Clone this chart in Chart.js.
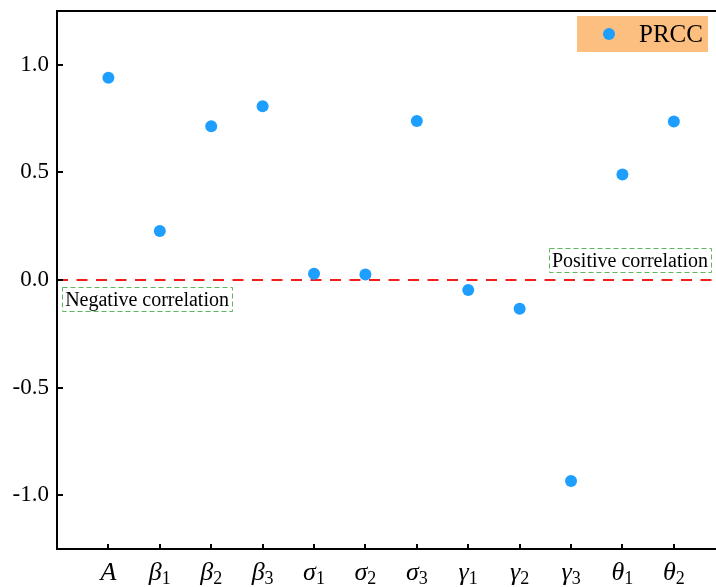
<!DOCTYPE html>
<html>
<head>
<meta charset="utf-8">
<script src="https://cdn.jsdelivr.net/npm/chart.js@4/dist/chart.umd.min.js"></script>
<style>
  html, body { margin: 0; padding: 0; background: #fff; overflow: hidden; }
  #wrap { width: 716px; height: 587px; }
</style>
</head>
<body>
<div id="wrap"><canvas id="prccChart" width="716" height="587"></canvas></div>
<script>
// parameter symbols and their subscripts
const symbols = ['A', 'β', 'β', 'β', 'σ', 'σ', 'σ', 'γ', 'γ', 'γ', 'θ', 'θ'];
const subscripts = ['', '1', '2', '3', '1', '2', '3', '1', '2', '3', '1', '2'];
const prccValues = [0.94, 0.228, 0.714, 0.807, 0.029, 0.026, 0.739, -0.047, -0.134, -0.934, 0.49, 0.737];
const yTicks = [-1.0, -0.5, 0.0, 0.5, 1.0];
const seriesName = 'PRCC';

const SERIF = '"Liberation Serif", "Times New Roman", serif';
const X_MIN = -1, X_MAX = 11.82;

// ticks, frame, category labels, legend and text boxes
const decorPlugin = {
    id: 'decor',
    afterDraw(chart) {
        const { ctx, chartArea: a, scales: { x, y } } = chart;
        ctx.save();
        ctx.strokeStyle = '#000';
        ctx.lineWidth = 2;

        // top frame line
        ctx.beginPath();
        ctx.moveTo(a.left - 1, a.top);
        ctx.lineTo(a.right, a.top);
        ctx.stroke();

        // inward ticks
        ctx.beginPath();
        yTicks.forEach(v => {
            const py = Math.round(y.getPixelForValue(v));
            ctx.moveTo(a.left, py);
            ctx.lineTo(a.left + 6, py);
        });
        symbols.forEach((s, i) => {
            const px = Math.round(x.getPixelForValue(i));
            ctx.moveTo(px, a.bottom);
            ctx.lineTo(px, a.bottom - 5);
        });
        ctx.stroke();

        // category labels: italic symbol + subscript
        ctx.fillStyle = '#000';
        ctx.textBaseline = 'alphabetic';
        ctx.textAlign = 'left';
        symbols.forEach((s, i) => {
            const px = x.getPixelForValue(i);
            ctx.font = 'italic 26px ' + SERIF;
            const w1 = ctx.measureText(s).width;
            ctx.font = '18px ' + SERIF;
            const w2 = subscripts[i] ? ctx.measureText(subscripts[i]).width : 0;
            const start = px - (w1 + w2) / 2;
            ctx.font = 'italic 26px ' + SERIF;
            ctx.fillText(s, start, a.bottom + 31);
            if (subscripts[i]) {
                ctx.font = '18px ' + SERIF;
                ctx.fillText(subscripts[i], start + w1, a.bottom + 35);
            }
        });

        // legend
        const lw = 131, lh = 36;
        const lx = a.right - 8 - lw, ly = a.top + 5;
        ctx.fillStyle = '#FDBF80';
        ctx.fillRect(lx, ly, lw, lh);
        ctx.fillStyle = chart.data.datasets[0].backgroundColor;
        ctx.beginPath();
        ctx.arc(lx + 32, ly + lh / 2, 6, 0, Math.PI * 2);
        ctx.fill();
        ctx.fillStyle = '#000';
        ctx.font = '25px ' + SERIF;
        ctx.textBaseline = 'middle';
        ctx.fillText(seriesName, lx + 62, ly + lh / 2 + 1);

        // dashed text boxes
        const box = (text, xv, yv) => {
            ctx.font = '20px ' + SERIF;
            const w = ctx.measureText(text).width;
            const bx = x.getPixelForValue(xv);
            const by = y.getPixelForValue(yv);
            ctx.setLineDash([5, 3]);
            ctx.strokeStyle = '#5DB85D';
            ctx.lineWidth = 1;
            ctx.strokeRect(Math.round(bx) + 0.5, Math.round(by) + 0.5, Math.round(w + 6), 24);
            ctx.setLineDash([]);
            ctx.fillStyle = '#000';
            ctx.textBaseline = 'alphabetic';
            ctx.fillText(text, bx + 3, by + 19);
        };
        box('Negative correlation', -0.9, -0.032);
        box('Positive correlation', 8.57, 0.147);

        ctx.restore();
    }
};

new Chart(document.getElementById('prccChart'), {
    type: 'scatter',
    data: {
        datasets: [
            {
                label: seriesName,
                data: prccValues.map((v, i) => ({ x: i, y: v })),
                backgroundColor: '#1E9FFF',
                borderWidth: 0,
                pointRadius: 6,
                pointHoverRadius: 6,
                order: 0
            },
            {
                label: 'zero',
                type: 'line',
                data: [{ x: X_MIN, y: 0 }, { x: X_MAX, y: 0 }],
                borderColor: '#F21D1D',
                borderWidth: 2,
                borderDash: [11, 8.5],
                pointRadius: 0,
                fill: false,
                order: 1
            }
        ]
    },
    options: {
        responsive: false,
        animation: false,
        events: [],
        layout: { autoPadding: false, padding: { top: 11, left: 0, right: 0, bottom: 0 } },
        plugins: {
            legend: { display: false },
            tooltip: { enabled: false }
        },
        scales: {
            x: {
                type: 'linear',
                min: X_MIN,
                max: X_MAX,
                grid: { display: false, drawTicks: false },
                border: { display: true, color: '#000', width: 2 },
                ticks: { display: false },
                afterFit: s => {
                    s.height = 38;
                    s.paddingLeft = 0; s.paddingRight = 0;
                }
            },
            y: {
                min: -1.25,
                max: 1.25,
                grid: { display: false, drawTicks: false },
                border: { display: true, color: '#000', width: 2 },
                afterBuildTicks: s => { s.ticks = yTicks.map(v => ({ value: v })); },
                ticks: {
                    color: '#000',
                    padding: 8,
                    font: { family: SERIF, size: 23 },
                    callback: v => v.toFixed(1)
                },
                afterFit: s => {
                    s.width = 57;
                    s.paddingTop = 0; s.paddingBottom = 0;
                }
            }
        }
    },
    plugins: [decorPlugin]
});
</script>
</body>
</html>
